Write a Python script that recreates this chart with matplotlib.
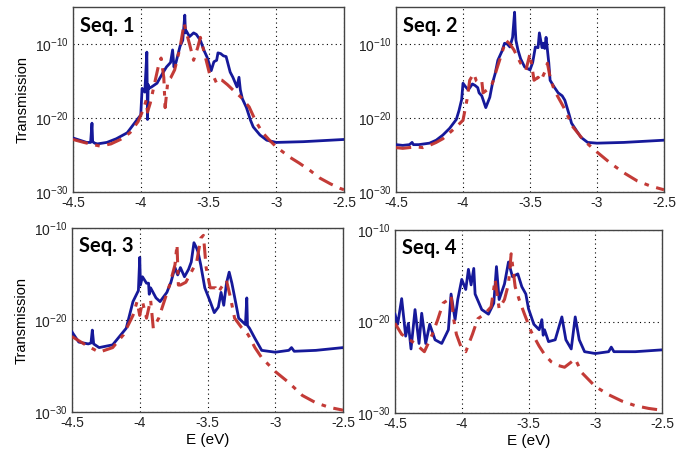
import matplotlib
matplotlib.use("Agg")
import matplotlib.pyplot as plt
from matplotlib.ticker import FixedLocator, FuncFormatter
import numpy as np

plt.rcParams['font.family'] = ['Liberation Sans', 'DejaVu Sans']
plt.rcParams['mathtext.fontset'] = 'custom'
plt.rcParams['mathtext.rm'] = 'Liberation Sans'
plt.rcParams['mathtext.it'] = 'Liberation Sans'

# ---- data: energy (eV) and log10(transmission) ----
seq1_blue_E = [-4.5, -4.45, -4.4, -4.37, -4.36, -4.355, -4.34, -4.32, -4.25, -4.18, -4.1, -4.03, -4.0, -3.99, -3.97,
               -3.955, -3.95, -3.945, -3.94, -3.92, -3.88, -3.84, -3.81, -3.78, -3.765, -3.755, -3.74, -3.71, -3.69,
               -3.675, -3.67, -3.665, -3.64, -3.61, -3.59, -3.56, -3.53, -3.51, -3.48, -3.46, -3.44, -3.43, -3.41,
               -3.39, -3.37, -3.34, -3.32, -3.29, -3.275, -3.265, -3.25, -3.22, -3.19, -3.17, -3.12, -3.07, -3.0,
               -2.8, -2.6, -2.5]
seq1_blue_L = [-22.7, -23.0, -23.3, -23.3, -20.7, -23.2, -23.4, -23.5, -23.3, -22.8, -22.0, -20.3, -19.6, -16.0, -16.5,
               -11.1, -20.2, -15.5, -16.0, -15.8, -15.3, -14.0, -13.1, -12.5, -10.8, -13.1, -12.5, -10.3, -9.5,
               -6.1, -8.5, -8.2, -9.0, -8.5, -8.7, -9.5, -11.0, -11.8, -13.6, -12.4, -12.2, -11.2, -11.3, -11.6,
               -11.7, -13.8, -14.5, -15.8, -14.5, -16.2, -17.4, -18.6, -20.3, -21.2, -22.3, -23.0, -23.3,
               -23.2, -23.0, -22.9]
seq1_red_E = [-4.5, -4.42, -4.35, -4.3, -4.22, -4.15, -4.08, -4.02, -3.98, -3.96, -3.95, -3.93, -3.9, -3.87, -3.85,
              -3.83, -3.82, -3.8, -3.78, -3.75, -3.71, -3.68, -3.67, -3.64, -3.61, -3.58, -3.56, -3.52, -3.49,
              -3.46, -3.44, -3.42, -3.40, -3.36, -3.32, -3.26, -3.2, -3.15, -3.1, -3.05, -3.0, -2.9, -2.83, -2.75,
              -2.68, -2.6, -2.53, -2.5]
seq1_red_L = [-22.9, -23.3, -23.6, -23.8, -23.5, -22.9, -22.0, -20.5, -18.8, -17.6, -19.2, -18.0, -15.5, -13.0, -11.9,
              -14.5, -18.6, -15.0, -14.6, -13.5, -10.5, -7.2, -8.0, -10.0, -12.2, -10.5, -9.1, -12.0, -14.2,
              -14.5, -15.3, -14.8, -14.9, -15.5, -16.2, -17.2, -18.5, -20.5, -22.0, -23.0, -23.9, -25.3, -26.1, -27.1,
              -28.1, -28.9, -29.5, -29.7]

seq2_blue_E = [-4.5, -4.45, -4.4, -4.38, -4.37, -4.33, -4.25, -4.2, -4.15, -4.1, -4.05, -4.03, -4.01, -4.0, -3.98,
               -3.96, -3.93, -3.91, -3.89, -3.88, -3.86, -3.83, -3.8, -3.78, -3.76, -3.74, -3.71, -3.69, -3.67, -3.65,
               -3.63, -3.615, -3.61, -3.605, -3.59, -3.57, -3.54, -3.5, -3.48, -3.46, -3.44, -3.43, -3.41, -3.40,
               -3.39, -3.38, -3.36, -3.35, -3.32, -3.29, -3.26, -3.24, -3.21, -3.19, -3.15, -3.12, -3.07, -3.0,
               -2.8, -2.6, -2.5]
seq2_blue_L = [-23.6, -23.7, -23.6, -23.3, -23.6, -23.6, -23.4, -23.0, -22.3, -21.4, -20.2, -19.0, -17.5, -15.3, -15.8,
               -16.2, -15.4, -15.6, -15.9, -16.6, -17.0, -18.6, -17.2, -15.3, -14.0, -12.2, -11.0, -9.9, -10.0, -10.4,
               -9.1, -5.7, -8.0, -9.5, -10.8, -12.0, -13.1, -13.5, -12.5, -10.4, -10.5, -8.5, -10.5, -9.9,
               -10.6, -9.1, -12.5, -14.9, -15.8, -16.6, -17.0, -17.6, -19.4, -20.7, -21.8, -22.6, -23.3, -23.4,
               -23.3, -23.1, -23.0]
seq2_red_E = [-4.5, -4.45, -4.4, -4.35, -4.3, -4.25, -4.2, -4.15, -4.1, -4.05, -4.0, -3.97, -3.95, -3.92, -3.9, -3.88,
              -3.86, -3.85, -3.82, -3.78, -3.75, -3.72, -3.68, -3.65, -3.62, -3.57, -3.53, -3.5, -3.47, -3.44,
              -3.42, -3.39, -3.37, -3.35, -3.32, -3.25, -3.18, -3.1, -3.0, -2.9, -2.8, -2.7, -2.6, -2.5]
seq2_red_L = [-24.0, -24.1, -24.0, -23.9, -24.0, -23.7, -23.3, -22.8, -22.0, -21.2, -20.3, -17.5, -14.9, -14.0, -15.0, -15.3,
              -15.0, -16.6, -16.2, -15.3, -13.5, -11.8, -9.5, -10.0, -10.8, -12.6, -13.5, -11.3, -14.9, -14.5,
              -15.0, -13.8, -12.6, -14.5, -16.2, -18.5, -21.2, -23.0, -24.6, -26.1, -27.4, -28.5, -29.2, -29.7]

seq3_blue_E = [-4.5, -4.45, -4.38, -4.36, -4.35, -4.34, -4.3, -4.2, -4.1, -4.05, -4.01, -4.0, -3.995, -3.98, -3.95,
               -3.935, -3.93, -3.92, -3.88, -3.85, -3.80, -3.77, -3.74, -3.72, -3.70, -3.67, -3.64, -3.62, -3.60,
               -3.58, -3.57, -3.55, -3.52, -3.48, -3.45, -3.42, -3.40, -3.38, -3.36, -3.34, -3.32, -3.3, -3.27,
               -3.22, -3.21, -3.205, -3.19, -3.15, -3.1, -3.0, -2.9, -2.88, -2.86, -2.7, -2.5]
seq3_blue_L = [-21.3, -22.4, -22.6, -22.5, -21.1, -22.6, -23.0, -22.7, -20.9, -18.0, -16.8, -13.2, -16.2, -15.3, -16.0,
               -16.0, -17.2, -16.5, -17.6, -18.0, -17.0, -15.9, -14.3, -15.1, -14.3, -15.3, -14.5, -13.7, -11.6,
               -12.2, -12.6, -14.0, -16.5, -18.0, -19.2, -18.6, -17.0, -18.4, -16.0, -14.8, -16.0, -17.5, -19.8,
               -20.5, -17.6, -20.6, -20.9, -22.0, -23.3, -23.5, -23.3, -23.0, -23.4, -23.3, -23.0]
seq3_red_E = [-4.5, -4.4, -4.3, -4.2, -4.12, -4.05, -4.02, -4.0, -3.98, -3.95, -3.92, -3.90, -3.86, -3.82, -3.78, -3.74,
              -3.725, -3.72, -3.715, -3.70, -3.66, -3.62, -3.58, -3.56, -3.55, -3.53, -3.51, -3.48, -3.44, -3.42,
              -3.40, -3.36, -3.33, -3.3, -3.25, -3.2, -3.15, -3.1, -3.0, -2.9, -2.8, -2.7, -2.6, -2.5]
seq3_red_L = [-21.8, -22.7, -23.5, -23.0, -21.6, -19.5, -18.0, -19.5, -18.0, -19.8, -17.8, -20.9, -19.8, -18.0, -16.2, -14.0,
              -11.8, -14.0, -16.2, -16.2, -15.9, -14.8, -13.7, -12.0, -11.1, -10.8, -14.3, -16.5, -16.5, -17.0,
              -16.5, -15.7, -17.6, -19.8, -20.8, -21.6, -23.0, -24.1, -25.6, -26.8, -28.2, -29.0, -29.5, -29.8]

seq4_blue_E = [-4.5, -4.48, -4.45, -4.42, -4.4, -4.38, -4.35, -4.32, -4.3, -4.27, -4.24, -4.2, -4.15, -4.1, -4.08,
               -4.05, -4.03, -4.0, -3.97, -3.95, -3.93, -3.91, -3.9, -3.85, -3.8, -3.76, -3.74, -3.72, -3.68, -3.65,
               -3.62, -3.58, -3.55, -3.52, -3.5, -3.46, -3.42, -3.40, -3.39, -3.38, -3.35, -3.3, -3.27, -3.25,
               -3.22, -3.18, -3.15, -3.12, -3.08, -3.0, -2.9, -2.88, -2.86, -2.7, -2.5]
seq4_blue_L = [-19.2, -20.3, -17.5, -21.6, -20.2, -23.0, -18.7, -22.4, -19.1, -22.4, -20.3, -22.0, -22.4, -20.9, -17.0,
               -19.8, -17.6, -15.4, -16.5, -14.3, -16.0, -14.2, -17.0, -18.7, -19.2, -18.0, -14.0, -17.6, -15.9, -13.5,
               -15.1, -14.8, -16.2, -17.0, -18.6, -20.3, -20.9, -19.8, -21.5, -20.9, -22.2, -22.0, -20.5, -19.5,
               -22.0, -23.0, -19.5, -22.0, -23.3, -23.5, -23.3, -22.8, -23.3, -23.3, -23.1]
seq4_red_E = [-4.5, -4.45, -4.35, -4.28, -4.22, -4.18, -4.14, -4.1, -4.08, -4.06, -4.04, -4.0, -3.97, -3.92, -3.88,
              -3.83, -3.78, -3.75, -3.72, -3.68, -3.65, -3.63, -3.6, -3.57, -3.53, -3.48, -3.42, -3.38, -3.33,
              -3.28, -3.23, -3.15, -3.1, -3.0, -2.9, -2.8, -2.7, -2.6, -2.5]
seq4_red_L = [-20.2, -21.4, -22.4, -23.3, -21.4, -19.8, -18.0, -17.6, -17.2, -19.8, -21.4, -23.0, -23.3, -21.4, -19.7,
              -19.2, -18.4, -15.4, -18.6, -17.6, -15.9, -12.6, -16.2, -17.6, -19.2, -21.1, -22.7, -23.6, -24.4,
              -24.8, -25.0, -24.1, -25.6, -27.1, -28.0, -28.7, -29.2, -29.5, -29.7]

titles = ["Seq. 1", "Seq. 2", "Seq. 3", "Seq. 4"]
x_ticks = [-4.5, -4.0, -3.5, -3.0, -2.5]
x_ticklabels = ["-4.5", "-4", "-3.5", "-3", "-2.5"]
y_ticks = [1e-30, 1e-20, 1e-10]

panels = [
    (seq1_blue_E, seq1_blue_L, seq1_red_E, seq1_red_L),
    (seq2_blue_E, seq2_blue_L, seq2_red_E, seq2_red_L),
    (seq3_blue_E, seq3_blue_L, seq3_red_E, seq3_red_L),
    (seq4_blue_E, seq4_blue_L, seq4_red_E, seq4_red_L),
]

W, H = 676, 455
fig = plt.figure(figsize=(W / 100, H / 100), dpi=100)
# (left, top, right, bottom) in pixels
boxes = [(73, 7, 344, 192), (396, 7, 664, 192), (72, 228, 343, 412), (395, 230, 662, 413)]
ylims = [(1e-30, 1e-5), (1e-30, 1e-5), (1e-30, 1e-10), (1e-30, 1e-10)]

blue = "#16199a"
red = "#c0302c"

def fmt(v, pos):
    e = int(round(np.log10(v)))
    return r"$10^{%d}$" % e

for i, (box, (bE, bL, rE, rL)) in enumerate(zip(boxes, panels)):
    l, t, r, b = box
    ax = fig.add_axes([l / W, 1 - b / H, (r - l) / W, (b - t) / H])
    ax.plot(bE, 10.0 ** np.array(bL), color=blue, lw=2.0, zorder=3)
    ax.plot(rE, 10.0 ** np.array(rL), color=red, lw=2.2, ls=(0, (5, 2.5, 1.5, 2.5)), zorder=4, alpha=0.95)
    ax.set_yscale("log")
    ax.set_xlim(-4.5, -2.5)
    ax.set_ylim(*ylims[i])
    ax.xaxis.set_major_locator(FixedLocator(x_ticks))
    ax.set_xticklabels(x_ticklabels)
    ax.yaxis.set_major_locator(FixedLocator(y_ticks))
    ax.yaxis.set_major_formatter(FuncFormatter(fmt))
    ax.yaxis.set_minor_locator(FixedLocator([]))
    ax.grid(True, which="major", color="black", ls=(0, (1, 3)), lw=0.8)
    ax.tick_params(axis="both", which="both", direction="in", length=0, labelsize=10, pad=3, colors="#222222")
    for s in ax.spines.values():
        s.set_color("#444444")
        s.set_linewidth(1.0)
    ax.text(0.025, 0.90, titles[i], transform=ax.transAxes, fontsize=14.5, fontweight="bold",
            family=["Lato", "DejaVu Sans"], va="center", ha="left", zorder=6,
            bbox=dict(facecolor="white", edgecolor="none", pad=0.5))
    if i in (0, 2):
        ax.set_ylabel("Transmission", fontsize=10.5, labelpad=4)
    if i in (2, 3):
        ax.set_xlabel("E (eV)", fontsize=11, labelpad=2)

fig.savefig("out.png", dpi=100)
